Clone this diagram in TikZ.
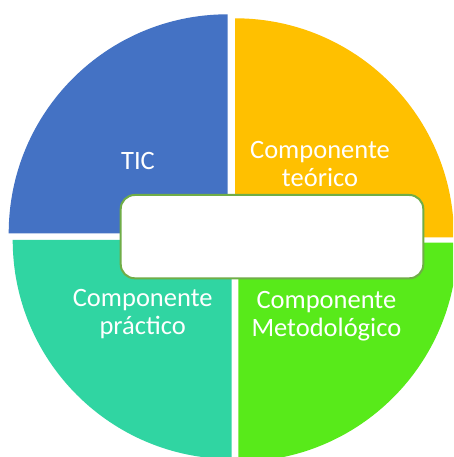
\documentclass[tikz,border=0pt]{standalone}
\usepackage{fontspec}
\setmainfont{Carlito}
\definecolor{qblue}{HTML}{4472C4}
\definecolor{qorange}{HTML}{FFC000}
\definecolor{qteal}{HTML}{30D5A2}
\definecolor{qgreen}{HTML}{58EA1A}
\definecolor{boxgreen}{HTML}{70AD47}
\begin{document}
\begin{tikzpicture}[x=1pt,y=1pt,
  quad/.style={draw=none},
  lbl/.style={text=white,font=\fontsize{26.5}{28.4}\selectfont,align=center,anchor=base,inner sep=0pt},
  centerbox/.style={draw=boxgreen,line width=2pt,fill=white,rounded corners=14pt}]
\useasboundingbox (0,0) rectangle (453,457);
\clip (0,0) rectangle (453,457);
\fill[white] (0,0) rectangle (453,457);
% quadrants
\fill[qblue]   (227.7,223.7) -- ++(0,219) arc[start angle=90,end angle=180,radius=219] -- cycle;
\fill[qorange] (235,219.7) -- ++(219,0) arc[start angle=0,end angle=90,radius=219] -- cycle;
\fill[qteal]   (231.7,217) -- ++(-219,0) arc[start angle=180,end angle=270,radius=219] -- cycle;
\fill[qgreen]  (238.3,214.3) -- ++(0,-219) arc[start angle=270,end angle=360,radius=219] -- cycle;
% centre box
\draw[centerbox] (120.7,178.7) rectangle (423.3,262);
\coordinate (boxc) at (272,220.3);
% labels
\node[lbl] (tic) at (138,287) {TIC};
\node[lbl] (teo1) at (320,298.7) {Componente};
\node[lbl] (teo2) at (320,270.3) {teórico};
\node[lbl] (pra1) at (142.7,150.3) {Componente};
\node[lbl] (pra2) at (142.7,122.7) {práctico};
\node[lbl] (met1) at (326.4,148.7) {Componente};
\node[lbl] (met2) at (326.4,120.3) {Metodológico};
\end{tikzpicture}
\end{document}
